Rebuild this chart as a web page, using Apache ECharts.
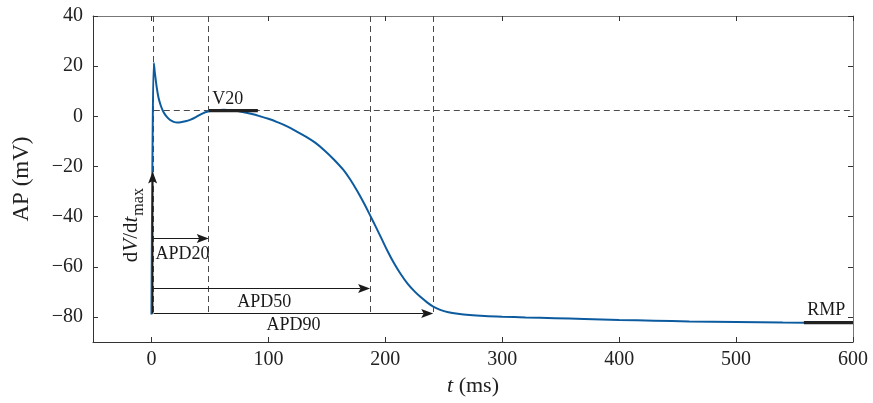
<!DOCTYPE html>
<html>
<head>
<meta charset="utf-8">
<script src="https://cdn.jsdelivr.net/npm/echarts@6/dist/echarts.min.js"></script>
<style>
html,body{margin:0;padding:0;background:#fff;}
#c{width:873px;height:403px;}
</style>
</head>
<body>
<div id="c"></div>
<script>
// ---- data ----
const time = [0,0.8,2,3,4.5,6,8,10.5,13,16,19,22,25,29,33,38,43,49,55,62,70,78,86,93,100,108,116,124,132,140,148,156,164,170,176,182,187,192,197,202,207,213,219,225,230,236,241,247,254,262,272,285,300,320,345,370,400,430,460,500,540,580,600];
const ap = [-79,-20,21.3,17,11.5,7.5,4.2,1.5,-0.1,-1.5,-2.2,-2.5,-2.4,-2.0,-1.4,-0.3,1.0,2.0,2.45,2.6,2.3,1.7,0.9,0.0,-1.0,-2.4,-4.0,-6.0,-8.1,-10.5,-13.6,-17.2,-21.3,-25.2,-29.8,-34.9,-39.5,-44.2,-49.0,-53.8,-58.2,-62.8,-66.7,-69.8,-72.0,-74.3,-75.9,-77.2,-78.1,-78.7,-79.2,-79.6,-79.9,-80.2,-80.5,-80.8,-81.2,-81.5,-81.8,-82.0,-82.2,-82.35,-82.4];

const xTicks = [0,100,200,300,400,500,600];
const yTicks = [-80,-60,-40,-20,0,20,40];

const guideT = [2, 49, 187, 241];        // vertical dashed guides
const guideTopV = 40;
const guideBottomV = -78.7;
const v20Level = 2.3;                      // horizontal dashed guide
const v20Bar = [49, 91];                   // V20 black bar (t range)
const rmpLevel = -82.3;
const rmpBar = [558, 600];
const apdStartT = 2;
const apdEndT = [49, 187, 241];
const apdLevel = [-48.7, -68.8, -78.7];
const apdNames = ['APD20', 'APD50', 'APD90'];
const apdLabelT = [3.5, 96.5, 121.5];
const apdLabelV = [-55, -74.2, -83.4];
const apdLabelAlign = ['left', 'center', 'center'];
const dvdtArrow = [[1, -78.7], [1, -22]];
const dvdtLabelPos = [-15, -43.4];
const v20LabelPos = [52, 6.6];
const rmpLabelPos = [560.8, -77.3];

const FONT = '"Liberation Serif","Times New Roman",serif';
const INK = '#1a1a1a';

const chart = echarts.init(document.getElementById('c'), null, {renderer: 'canvas'});

function crisp(v) { return Math.round(v - 0.5) + 0.5; }

function arrowParts(api, a, b, lw) {
  const p1 = api.coord(a), p2 = api.coord(b);
  const dx = p2[0] - p1[0], dy = p2[1] - p1[1];
  const len = Math.sqrt(dx * dx + dy * dy);
  const ux = dx / len, uy = dy / len;
  const px = -uy, py = ux;
  const L = 12, W = 4.5;
  const horiz = Math.abs(dy) < 0.01;
  const yy = horiz ? crisp(p1[1]) : null;
  const tip = [p2[0], horiz ? yy : p2[1]];
  const bx = tip[0] - ux * L, by = tip[1] - uy * L;
  const nx = tip[0] - ux * L * 0.8, ny = tip[1] - uy * L * 0.8;
  const x1 = p1[0], y1 = horiz ? yy : p1[1];
  return [
    {type: 'line', shape: {x1: x1, y1: y1, x2: nx, y2: ny}, style: {stroke: INK, lineWidth: lw}},
    {type: 'polygon', shape: {points: [tip, [bx + px * W, by + py * W], [nx, ny], [bx - px * W, by - py * W]]}, style: {fill: INK}}
  ];
}

function guidesRender(params, api) {
  const ch = [];
  guideT.forEach(function (t) {
    const a = api.coord([t, guideTopV]), b = api.coord([t, guideBottomV]);
    const x = crisp(a[0]);
    ch.push({type: 'line', shape: {x1: x, y1: a[1], x2: x, y2: b[1]}, style: {stroke: '#4a4a4a', lineWidth: 1, lineDash: [6, 4]}});
  });
  const h1 = api.coord([guideT[0], v20Level]), h2 = api.coord([600, v20Level]);
  const y = crisp(h1[1]);
  ch.push({type: 'line', shape: {x1: h1[0], y1: y, x2: h2[0], y2: y}, style: {stroke: '#4a4a4a', lineWidth: 1, lineDash: [6, 4]}});
  return {type: 'group', children: ch};
}

function annotRender(params, api) {
  let ch = [];
  apdEndT.forEach(function (t, i) {
    ch = ch.concat(arrowParts(api, [apdStartT, apdLevel[i]], [t, apdLevel[i]], 1.1));
    const p = api.coord([apdLabelT[i], apdLabelV[i]]);
    ch.push({type: 'text', x: p[0], y: p[1], style: {text: apdNames[i], fontFamily: FONT, fontSize: 18, fill: INK, align: apdLabelAlign[i], verticalAlign: 'middle'}});
  });
  ch = ch.concat(arrowParts(api, dvdtArrow[0], dvdtArrow[1], 1.6));
  const v1 = api.coord([v20Bar[0], v20Level]), v2 = api.coord([v20Bar[1], v20Level]);
  ch.push({type: 'line', shape: {x1: v1[0], y1: v1[1], x2: v2[0], y2: v2[1]}, style: {stroke: '#222', lineWidth: 3.2}});
  const r1 = api.coord([rmpBar[0], rmpLevel]), r2 = api.coord([rmpBar[1], rmpLevel]);
  ch.push({type: 'line', shape: {x1: r1[0], y1: r1[1], x2: r2[0], y2: r2[1]}, style: {stroke: '#222', lineWidth: 3.2}});
  const pv = api.coord(v20LabelPos);
  ch.push({type: 'text', x: pv[0], y: pv[1], style: {text: 'V20', fontFamily: FONT, fontSize: 18, fill: INK, align: 'left', verticalAlign: 'middle'}});
  const pr = api.coord(rmpLabelPos);
  ch.push({type: 'text', x: pr[0], y: pr[1], style: {text: 'RMP', fontFamily: FONT, fontSize: 18, fill: INK, align: 'left', verticalAlign: 'middle'}});
  const pd = api.coord(dvdtLabelPos);
  ch.push({type: 'text', x: pd[0], y: pd[1], rotation: Math.PI / 2, style: {
    text: '{n|d}{i|V}{n|/d}{i|t}{s|max}', align: 'center', verticalAlign: 'middle',
    rich: {
      n: {fontFamily: FONT, fontSize: 21, fill: INK, verticalAlign: 'top'},
      i: {fontFamily: FONT, fontSize: 21, fontStyle: 'italic', fill: INK, verticalAlign: 'top'},
      s: {fontFamily: FONT, fontSize: 16, fill: INK, verticalAlign: 'top', padding: [9, 0, 0, 1]}
    }
  }});
  return {type: 'group', children: ch};
}

const minusFmt = function (v) { return String(v).replace('-', '\u2212'); };

const axisCommon = {
  type: 'value',
  splitLine: {show: false},
  axisLine: {show: true, onZero: false, lineStyle: {color: '#333', width: 1}},
  axisTick: {show: true, inside: true, length: 5, lineStyle: {color: '#333', width: 1}}
};

const option = {
  backgroundColor: '#fff',
  animation: false,
  grid: {left: 93, right: 20, top: 16, bottom: 61, containLabel: false, outerBoundsMode: 'none'},
  xAxis: [
    Object.assign({}, axisCommon, {
      min: -50, max: 600, position: 'bottom',
      axisTick: Object.assign({}, axisCommon.axisTick, {customValues: xTicks}),
      axisLabel: {customValues: xTicks, formatter: minusFmt, fontFamily: FONT, fontSize: 20, color: '#222', margin: 8},
      name: '{i|t} (ms)', nameLocation: 'middle', nameGap: 30,
      nameTextStyle: {fontFamily: FONT, fontSize: 22, color: '#222', rich: {i: {fontFamily: FONT, fontSize: 22, fontStyle: 'italic', color: '#222'}}}
    }),
    Object.assign({}, axisCommon, {
      min: -50, max: 600, position: 'top',
      axisLine: {show: true, onZero: false, lineStyle: {color: '#777', width: 1}},
      axisTick: Object.assign({}, axisCommon.axisTick, {customValues: xTicks}),
      axisLabel: {show: false}
    })
  ],
  yAxis: [
    Object.assign({}, axisCommon, {
      min: -90, max: 40, position: 'left',
      axisTick: Object.assign({}, axisCommon.axisTick, {customValues: yTicks}),
      axisLabel: {customValues: yTicks, formatter: minusFmt, fontFamily: FONT, fontSize: 20, color: '#222', margin: 10},
      name: 'AP (mV)', nameLocation: 'middle', nameGap: 60,
      nameTextStyle: {fontFamily: FONT, fontSize: 23, color: '#222'}
    }),
    Object.assign({}, axisCommon, {
      min: -90, max: 40, position: 'right',
      axisLine: {show: true, onZero: false, lineStyle: {color: '#777', width: 1}},
      axisTick: Object.assign({}, axisCommon.axisTick, {customValues: yTicks}),
      axisLabel: {show: false}
    })
  ],
  series: [
    {type: 'custom', z: 1, renderItem: guidesRender, data: [[0, 0]], silent: true},
    {type: 'line', z: 3, data: time.map(function (t, i) { return [t, ap[i]]; }), showSymbol: false, smooth: 0.35,
     lineStyle: {color: '#0d5b9f', width: 2}, itemStyle: {color: '#0d5b9f'}},
    {type: 'custom', z: 4, renderItem: annotRender, data: [[0, 0]], silent: true}
  ]
};
chart.setOption(option);
</script>
</body>
</html>
